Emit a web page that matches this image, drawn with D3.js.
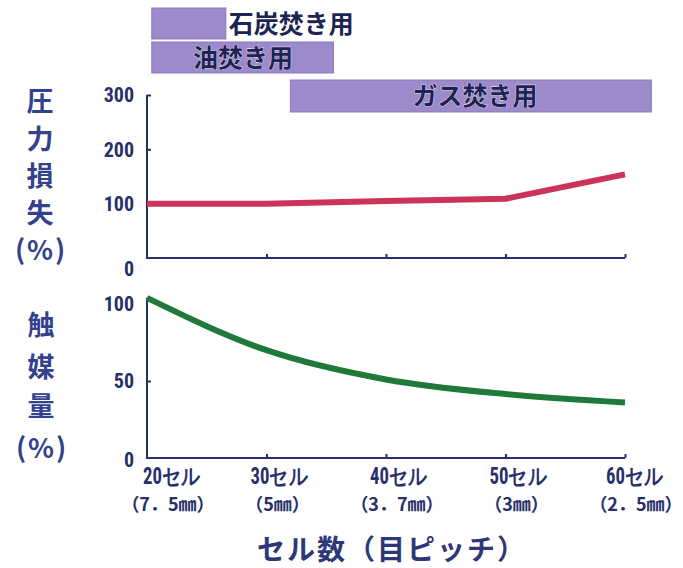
<!DOCTYPE html>
<html>
<head>
<meta charset="utf-8">
<script src="https://cdn.jsdelivr.net/npm/d3@7/dist/d3.min.js"></script>
<style>
  html, body { margin: 0; padding: 0; background: #ffffff; }
  svg { display: block; }
</style>
</head>
<body>
<svg id="chart" width="683" height="568"></svg>
<script>
// Cell count on the x axis, with the matching mesh pitch
const cells = [20, 30, 40, 50, 60];
const cellLabels = ["20セル", "30セル", "40セル", "50セル", "60セル"];
const pitchLabels = ["（7．5㎜）", "（5㎜）", "（3．7㎜）", "（3㎜）", "（2．5㎜）"];

// Pressure loss (%) and catalyst volume (%) for each cell count
const pressureLoss = [100, 100, 105, 109, 154];
const catalystAmount = [104, 70, 51, 41.5, 36];

// Axis ticks
const lossTicks = [0, 100, 200, 300];
const catalystTicks = [0, 50, 100];

// Fuel applicability bands, expressed in cell counts
const fuelNames = ["石炭焚き用", "油焚き用", "ガス焚き用"];
const fuelStart = [20.4, 20.4, 32.0];
const fuelEnd = [26.6, 35.6, 62.2];

const NAVY = "#27306a";
const TITLE_BLUE = "#34418e";
const RED = "#cc3358";
const GREEN = "#1f7a3a";
const PURPLE = "#9c8acb";
const NUM_FONT = "'Liberation Sans Narrow', 'Roboto', 'DejaVu Sans', sans-serif";
const JP_FONT = "'Noto Sans CJK JP', 'Noto Sans', sans-serif";

const svg = d3.select("#chart");

const x = d3.scaleLinear().domain([20, 60]).range([147, 625]);
const yLoss = d3.scaleLinear().domain([0, 300]).range([258, 95]);
const yCat = d3.scaleLinear().domain([0, 100]).range([458, 304]);

// ---- fuel bands on top ----
const bandY = [8, 42, 80];
const bandH = [31, 31, 32];
const bands = svg.append("g");
fuelNames.forEach((name, i) => {
  bands.append("rect")
    .attr("x", x(fuelStart[i]))
    .attr("y", bandY[i])
    .attr("width", x(fuelEnd[i]) - x(fuelStart[i]))
    .attr("height", bandH[i])
    .attr("fill", PURPLE)
    .attr("stroke", "#8a78bd")
    .attr("stroke-width", 1);
});
const bandText = [
  { x: x(fuelEnd[0]) + 3, anchor: "start" },
  { x: 243, anchor: "middle" },
  { x: 475, anchor: "middle" }
];
fuelNames.forEach((name, i) => {
  bands.append("text")
    .attr("x", bandText[i].x)
    .attr("y", bandY[i] + bandH[i] / 2)
    .attr("dy", "0.36em")
    .attr("text-anchor", bandText[i].anchor)
    .attr("font-family", JP_FONT)
    .attr("font-weight", 700)
    .attr("font-size", 25)
    .attr("fill", "#1d2452")
    .attr("stroke", "#ffffff")
    .attr("stroke-width", 0.6)
    .attr("paint-order", "stroke")
    .text(name);
});

// ---- axes helpers ----
function drawPanel(y, ticks, topValue, tickMarks, zeroDy) {
  const g = svg.append("g");
  // frame: vertical axis and baseline
  g.append("path")
    .attr("d", d3.line()([[x(20), y(topValue)], [x(20), y(0)], [x(60), y(0)]]))
    .attr("fill", "none")
    .attr("stroke", NAVY)
    .attr("stroke-width", 2);

  // inward y ticks
  const ya = d3.axisLeft(y).tickValues(tickMarks).tickSize(-4).tickSizeOuter(0).tickFormat("");
  const yg = g.append("g").attr("transform", `translate(${x(20)},0)`).call(ya);
  yg.select(".domain").remove();
  yg.selectAll("line").attr("stroke", NAVY).attr("stroke-width", 2);

  // inward x ticks
  const xa = d3.axisBottom(x).tickValues(cells.slice(1)).tickSize(-4).tickSizeOuter(0).tickFormat("");
  const xg = g.append("g").attr("transform", `translate(0,${y(0)})`).call(xa);
  xg.select(".domain").remove();
  xg.selectAll("line").attr("stroke", NAVY).attr("stroke-width", 2);

  // tick labels
  g.selectAll("text.ytl").data(ticks).join("text")
    .attr("class", "ytl")
    .attr("x", x(20) - 13)
    .attr("y", d => y(d))
    .attr("dy", d => d === 0 ? zeroDy : "0.36em")
    .attr("text-anchor", "end")
    .attr("font-family", NUM_FONT)
    .attr("font-stretch", "condensed")
    .attr("font-weight", 700)
    .attr("font-size", 20)
    .attr("fill", NAVY)
    .text(d => d);
  return g;
}

drawPanel(yLoss, lossTicks, 300, [200, 300], "0.9em");
drawPanel(yCat, catalystTicks, d3.max(catalystAmount), [50], "0.45em");

// ---- data lines ----
svg.append("path")
  .datum(cells.map((c, i) => [c, pressureLoss[i]]))
  .attr("d", d3.line().x(d => x(d[0])).y(d => yLoss(d[1])))
  .attr("fill", "none")
  .attr("stroke", RED)
  .attr("stroke-width", 6)
  .attr("stroke-linejoin", "round");

svg.append("path")
  .datum(cells.map((c, i) => [c, catalystAmount[i]]))
  .attr("d", d3.line().curve(d3.curveMonotoneX).x(d => x(d[0])).y(d => yCat(d[1])))
  .attr("fill", "none")
  .attr("stroke", GREEN)
  .attr("stroke-width", 6)
  .attr("stroke-linejoin", "round");

// ---- y-axis titles (vertical) ----
function verticalTitle(chars, cx, ys) {
  const g = svg.append("g")
    .attr("font-family", JP_FONT)
    .attr("font-weight", 700)
    .attr("font-size", 27)
    .attr("fill", TITLE_BLUE)
    .attr("text-anchor", "middle");
  chars.forEach((ch, i) => {
    g.append("text")
      .attr("x", cx)
      .attr("y", ys[i])
      .attr("dy", "0.36em")
      .text(ch);
  });
  // "(%)" unit line, spread out like the glyphs above
  const unit = g.append("text")
    .attr("y", ys[ys.length - 1])
    .attr("dy", "0.36em");
  [["(", -20], ["%", 0], [")", 20]].forEach(([s, off]) => {
    unit.append("tspan").attr("x", cx + off).text(s);
  });
}
verticalTitle(["圧", "力", "損", "失"], 40, [101, 139, 176, 213, 250]);
verticalTitle(["触", "媒", "量"], 41, [325, 367, 406, 448]);

// ---- x labels ----
const xLab = svg.append("g");
cells.forEach((c, i) => {
  const cx = i === 0 ? x(c) + 25 : (i === cells.length - 1 ? x(c) + 10 : x(c) + 13);
  xLab.append("text")
    .attr("x", cx)
    .attr("y", 476)
    .attr("dy", "0.36em")
    .attr("text-anchor", "middle")
    .attr("font-family", NUM_FONT)
    .attr("font-stretch", "condensed")
    .attr("font-weight", 700)
    .attr("font-size", 23)
    .attr("textLength", 58)
    .attr("lengthAdjust", "spacingAndGlyphs")
    .attr("fill", NAVY)
    .text(cellLabels[i]);
  const px = i === 0 ? x(c) + 21 : x(c) + 11;
  xLab.append("text")
    .attr("x", px)
    .attr("y", 505)
    .attr("dy", "0.36em")
    .attr("text-anchor", "middle")
    .attr("font-family", JP_FONT)
    .attr("font-weight", 700)
    .attr("font-size", 18)
    .attr("fill", NAVY)
    .text(pitchLabels[i]);
});

svg.append("text")
  .attr("x", 392)
  .attr("y", 550)
  .attr("dy", "0.36em")
  .attr("text-anchor", "middle")
  .attr("font-family", JP_FONT)
  .attr("font-weight", 700)
  .attr("font-size", 28)
  .attr("letter-spacing", 2)
  .attr("fill", "#2c3878")
  .text("セル数（目ピッチ）");
</script>
</body>
</html>
